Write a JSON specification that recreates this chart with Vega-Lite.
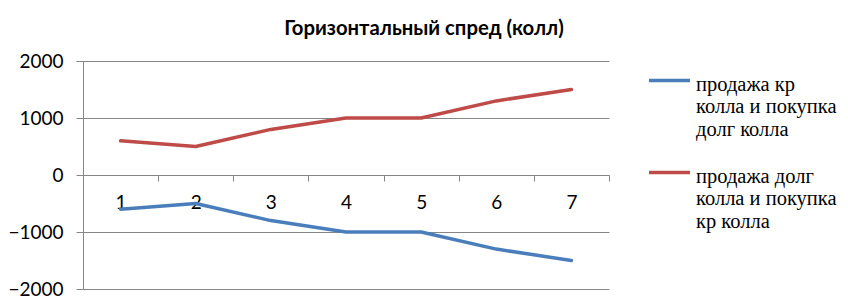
{
  "$schema": "https://vega.github.io/schema/vega-lite/v6.json",
  "width": 526,
  "height": 228,
  "autosize": {"type": "none"},
  "padding": {"left": 83, "top": 61, "right": 239, "bottom": 16},
  "background": "white",
  "title": {
    "text": "Горизонтальный спред (колл)",
    "font": "Lato",
    "fontSize": 20.3,
    "fontWeight": "bold",
    "color": "#000000",
    "anchor": "middle",
    "frame": "group",
    "baseline": "alphabetic",
    "dx": 78,
    "offset": -3
  },
  "data": {
    "values": [
      {"x": "1", "series": "продажа кр колла и покупка долг колла", "value": -600},
      {"x": "2", "series": "продажа кр колла и покупка долг колла", "value": -500},
      {"x": "3", "series": "продажа кр колла и покупка долг колла", "value": -800},
      {"x": "4", "series": "продажа кр колла и покупка долг колла", "value": -1000},
      {"x": "5", "series": "продажа кр колла и покупка долг колла", "value": -1000},
      {"x": "6", "series": "продажа кр колла и покупка долг колла", "value": -1300},
      {"x": "7", "series": "продажа кр колла и покупка долг колла", "value": -1500},
      {"x": "1", "series": "продажа долг колла и покупка кр колла", "value": 600},
      {"x": "2", "series": "продажа долг колла и покупка кр колла", "value": 500},
      {"x": "3", "series": "продажа долг колла и покупка кр колла", "value": 800},
      {"x": "4", "series": "продажа долг колла и покупка кр колла", "value": 1000},
      {"x": "5", "series": "продажа долг колла и покупка кр колла", "value": 1000},
      {"x": "6", "series": "продажа долг колла и покупка кр колла", "value": 1300},
      {"x": "7", "series": "продажа долг колла и покупка кр колла", "value": 1500}
    ]
  },
  "mark": {"type": "line", "interpolate": "linear", "strokeWidth": 3.5, "strokeCap": "round", "strokeJoin": "round"},
  "encoding": {
    "x": {
      "field": "x",
      "type": "ordinal",
      "scale": {"type": "band", "paddingInner": 0, "paddingOuter": 0},
      "axis": {
        "title": null,
        "orient": "bottom",
        "offset": -114,
        "tickBand": "extent",
        "labelAngle": 0,
        "labelFont": "Lato",
        "labelFontSize": 19,
        "labelColor": "#000000",
        "labelPadding": 18,
        "domainColor": "#868686",
        "tickColor": "#868686",
        "tickSize": 6,
        "grid": false
      }
    },
    "y": {
      "field": "value",
      "type": "quantitative",
      "scale": {"domain": [-2000, 2000], "nice": false},
      "axis": {
        "title": null,
        "values": [-2000, -1000, 0, 1000, 2000],
        "format": "d",
        "grid": true,
        "gridColor": "#868686",
        "gridOpacity": 1,
        "domainColor": "#868686",
        "tickColor": "#868686",
        "tickSize": 7,
        "labelFont": "Lato",
        "labelFontSize": 19,
        "labelColor": "#000000",
        "labelPadding": 13,
        "labelOffset": 6
      }
    },
    "color": {
      "field": "series",
      "type": "nominal",
      "scale": {
        "domain": ["продажа кр колла и покупка долг колла", "продажа долг колла и покупка кр колла"],
        "range": ["#4A7EBB", "#BE4B48"]
      },
      "legend": {
        "title": null,
        "orient": "none",
        "legendX": 564,
        "legendY": -3,
        "padding": 0,
        "symbolType": "stroke",
        "symbolSize": 1681,
        "symbolStrokeWidth": 3.5,
        "labelFont": "Liberation Serif",
        "labelFontSize": 20.5,
        "labelColor": "#000000",
        "labelOffset": 4,
        "labelLimit": 300,
        "labelBaseline": "top",
        "rowPadding": 10,
        "labelExpr": "datum.label == 'продажа кр колла и покупка долг колла' ? ['продажа кр', 'колла и покупка', 'долг колла'] : ['продажа долг', 'колла и покупка', 'кр колла']"
      }
    }
  },
  "config": {
    "view": {"stroke": null},
    "style": {"guide-label": {"dy": -6, "lineHeight": 22.5}}
  }
}
